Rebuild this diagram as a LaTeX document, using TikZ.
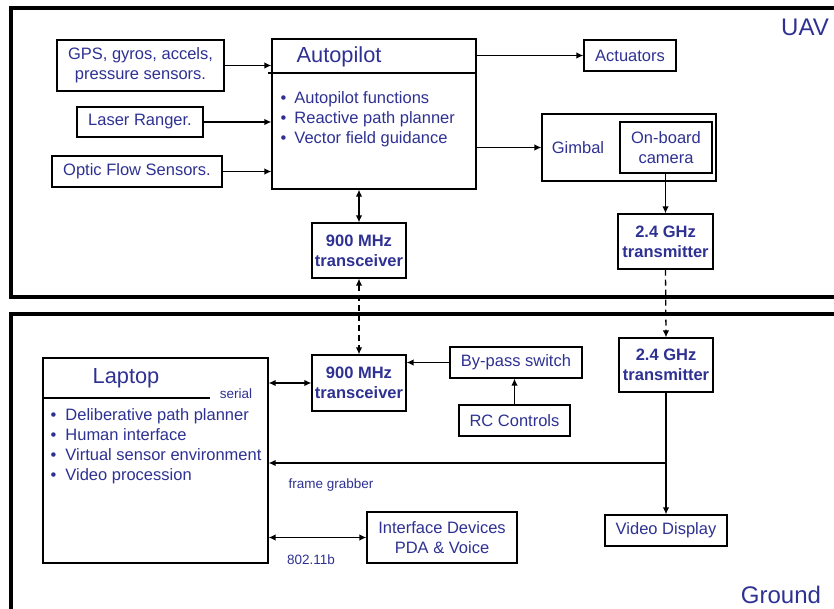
\documentclass[tikz,border=0pt]{standalone}
\usepackage{fontspec}
\setmainfont{Liberation Sans}
\usetikzlibrary{arrows.meta}
\definecolor{text_blue}{RGB}{46,49,146}

\begin{document}
\begin{tikzpicture}[->,line width=1.3pt,>={Latex[length=7pt,width=6.5pt]},x=1pt,y=-1pt]
    \tikzstyle{box}=[draw=black, line width=1.2pt, rectangle, inner sep=0pt, align=center, text=text_blue, font=\fontsize{16.5}{20}\selectfont]
    \tikzstyle{trx}=[box, font=\fontsize{16.5}{20}\selectfont\bfseries]
    \tikzstyle{zone}=[-, line width=4pt, draw=black]
    \tikzstyle{lbl}=[inner sep=0pt, text=text_blue, font=\fontsize{16.5}{20}\selectfont, align=left]
    \tikzstyle{small}=[inner sep=0pt, text=text_blue, font=\fontsize{13.5}{16}\selectfont]
    \tikzstyle{heading}=[inner sep=0pt, text=text_blue, font=\fontsize{21.8}{24}\selectfont]
    \tikzstyle{region}=[inner sep=0pt, text=text_blue, font=\fontsize{24}{28}\selectfont]

    \useasboundingbox (0,0) rectangle (834,609);

    % UAV side
    \draw[zone] (834,8) -- (11,8) -- (11,296.5) -- (834,296.5);
    \node[region] (uav) at (805,27) {UAV};

    \node[box, minimum width=167pt, minimum height=51pt] (gps)   at (140.5,65.5) {GPS, gyros, accels,\\pressure sensors.};
    \node[box, minimum width=126pt, minimum height=30pt] (laser) at (140,122)    {Laser Ranger.};
    \node[box, minimum width=170pt, minimum height=31pt] (optic) at (137,171.5)  {Optic Flow Sensors.};

    \node[box, minimum width=204pt, minimum height=150pt] (ap) at (374,114) {};
    \node[heading, anchor=west] (ap_title) at (296,57) {Autopilot};
    \draw[-, line width=1.2pt] (268,73) -- (ap.east |- 0,73);
    \node[lbl, anchor=west] (ap_list) at (280,119) {\textbullet\hspace{8pt}Autopilot functions\\\textbullet\hspace{8pt}Reactive path planner\\\textbullet\hspace{8pt}Vector field guidance};

    \node[box, minimum width=92pt, minimum height=31pt]  (act) at (630,55.5)  {Actuators};
    \node[box, minimum width=174pt, minimum height=67pt] (gim) at (629,147.5) {};
    \node[lbl] (gim_txt) at (578,148) {Gimbal};
    \node[box, minimum width=92pt, minimum height=51pt]  (cam) at (666,147.5) {On-board\\camera};

    \node[trx, minimum width=95pt, minimum height=55pt] (tx_uav)  at (665.5,241.5) {2.4 GHz\\transmitter};
    \node[trx, minimum width=94pt, minimum height=55pt] (trx_uav) at (359,250.5)   {900 MHz\\transceiver};

    % Ground side
    \draw[zone] (11,609) -- (11,314) -- (834,314);
    \node[region] (gnd) at (781,595) {Ground};

    \node[box, minimum width=225pt, minimum height=205pt] (lap) at (155.5,460.5) {};
    \node[heading, anchor=west] (lap_title) at (92,378) {Laptop};
    \draw[-, line width=1.2pt] (lap.west |- 0,398) -- (210,398);
    \node[small] (serial) at (236,394) {serial};
    \node[lbl, anchor=west] (lap_list) at (50,446) {\textbullet\hspace{9pt}Deliberative path planner\\\textbullet\hspace{9pt}Human interface\\\textbullet\hspace{9pt}Virtual sensor environment\\\textbullet\hspace{9pt}Video procession};

    \node[trx, minimum width=94pt, minimum height=56pt]  (trx_gnd) at (359,383)     {900 MHz\\transceiver};
    \node[box, minimum width=132pt, minimum height=31pt] (bypass)  at (516,362.5)   {By-pass switch};
    \node[box, minimum width=111pt, minimum height=31pt] (rc)      at (514.5,420.5) {RC Controls};
    \node[trx, minimum width=94pt, minimum height=54pt]  (tx_gnd)  at (666,365)     {2.4 GHz\\transmitter};
    \node[box, minimum width=122pt, minimum height=31pt] (video)   at (666,530.5)   {Video Display};
    \node[box, minimum width=150pt, minimum height=51pt] (iface)   at (442,537.5)   {Interface Devices\\PDA \& Voice};

    \coordinate (fg) at (666,463);
    \node[small] (fg_lbl)  at (331,485) {frame grabber};
    \node[small] (wlan_lbl) at (311,560) {802.11b};

    \path
     (gps.east)   edge[] (gps.east -| ap.west)
     (laser.east) edge[] (laser.east -| ap.west)
     (optic.east) edge[] (optic.east -| ap.west)
     (ap.east |- act.west) edge[] (act.west)
     (ap.east |- gim.west) edge[] (gim.west)
     (cam.south -| tx_uav.north) edge[] (tx_uav.north)
     (ap.south -| trx_uav.north) edge[<->] (trx_uav.north)
     (trx_uav.south) edge[<->, dash pattern=on 6pt off 4pt] (trx_gnd.north)
     (tx_uav.south)  edge[dash pattern=on 6pt off 4pt] (tx_gnd.north)
     (lap.east |- trx_gnd.west) edge[<->] (trx_gnd.west)
     (bypass.west) edge[] (bypass.west -| trx_gnd.east)
     (rc.north) edge[] (rc.north |- bypass.south)
     (tx_gnd.south) edge[] (video.north)
     (fg) edge[] (fg -| lap.east)
     (lap.east |- iface.west) edge[<->] (iface.west)
     ;
\end{tikzpicture}
\end{document}
